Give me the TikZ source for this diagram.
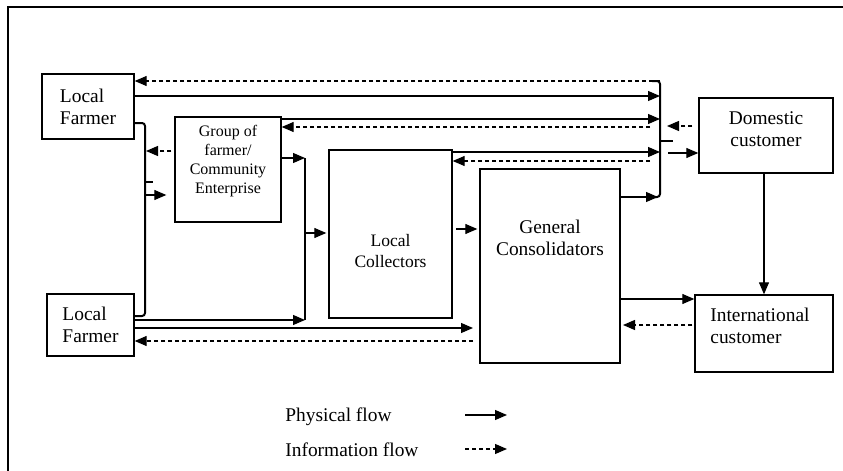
\documentclass[tikz,border=0pt]{standalone}
\usepackage{fontspec}
\setmainfont{Liberation Serif}
\usetikzlibrary{arrows.meta}

\tikzset{
  box/.style={draw, line width=0.7pt, inner sep=0pt},
  phys/.style={-{Triangle[length=6pt,width=5pt]}, line width=0.6pt},
  info/.style={phys, dash pattern=on 2pt off 1.5pt},
  joint/.style={line width=1pt, rounded corners=1.5pt},
}

\begin{document}
\begin{tikzpicture}[x=0.5pt, y=-0.5pt, font=\fontsize{9.7}{11}\selectfont]
    \useasboundingbox (0,0) rectangle (843,471);
    % Frame
    \draw[line width=1pt] (8,471) -- (8,7) -- (843,7);

    % Boxes
    \node[box, minimum width=46pt, minimum height=32.5pt, align=left] (lf1) at (88,106.5) {Local\\Farmer};
    \node[box, minimum width=43.5pt, minimum height=31pt, align=left] (lf2) at (90.5,325) {Local\\Farmer};
    \node[box, minimum width=53pt, minimum height=52.5pt] (grp) at (228,169.5) {};
    \node[box, minimum width=61.5pt, minimum height=84pt] (lc) at (390.5,234) {};
    \node[box, minimum width=70pt, minimum height=97pt] (gc) at (550,266) {};
    \node[box, minimum width=67pt, minimum height=37.5pt] (dom) at (766,135.5) {};
    \node[box, minimum width=69pt, minimum height=38.5pt] (intl) at (764,333.5) {};

    % Box texts
    \node[align=center, font=\fontsize{8}{9.5}\selectfont] (grptext) at (228,161.5) {Group of\\farmer/\\Community\\Enterprise};
    \node[align=center, font=\fontsize{8.75}{10.5}\selectfont] (lctext) at (390.5,251) {Local\\Collectors};
    \node[align=center] (gctext) at (550,238) {General\\Consolidators};
    \node[align=center] (domtext) at (766,129) {Domestic\\customer};
    \node[align=left, anchor=west, inner sep=0pt] (intltext) at (710,326) {International\\customer};

    % Left bracket
    \coordinate (lbtop) at (145,123);
    \coordinate (lbbot) at (145,316);
    \coordinate (lbout) at (145,195);
    \coordinate (lbin) at (146,151);
    \draw[joint] (lf1.east |- lbtop) -- (lbtop) -- (lbbot) -- (lf2.east |- lbbot);
    \draw[joint] (145,182) -- (153,182);
    \draw[phys, shorten >=4pt] (lbout) -- (grp.west |- lbout);
    \draw[info, shorten <=1.5pt] (grp.west |- lbin) -- (lbin);

    % Middle bracket
    \coordinate (mbtop) at (305,158);
    \coordinate (mbbot) at (305,320);
    \coordinate (mbout) at (305,233);
    \draw[joint] (mbtop) -- (mbbot);
    \draw[phys] (grp.east |- mbtop) -- (mbtop);
    \draw[phys] (lf2.east |- mbbot) -- (mbbot);
    \draw[phys, shorten >=1pt] (mbout) -- (lc.west |- mbout);

    % Right bracket
    \coordinate (rbtop) at (660,81);
    \coordinate (rbbot) at (660,197);
    \coordinate (rb1) at (660,96);
    \coordinate (rb2) at (660,119);
    \coordinate (rb3) at (660,127);
    \coordinate (rb4) at (660,152);
    \coordinate (rb5) at (660,161);
    \draw[joint] (652,81) -- (rbtop) -- (rbbot) -- (652,197);
    \draw[joint] (660,141) -- (673,141);
    \draw[info] (rbtop) -- (lf1.east |- rbtop);
    \draw[phys] (lf1.east |- rb1) -- (rb1);
    \draw[phys] (grp.east |- rb2) -- (rb2);
    \draw[info, shorten <=5pt] (rb3) -- (grp.east |- rb3);
    \draw[phys] (lc.east |- rb4) -- (rb4);
    \draw[info, shorten <=5pt] (rb5) -- (lc.east |- rb5);
    \draw[phys, shorten >=1pt] (gc.east |- rbbot) -- (rbbot);

    % Domestic customer
    \coordinate (rbin) at (667,126);
    \coordinate (rbout) at (668,153);
    \draw[info, shorten <=3pt] (dom.west |- rbin) -- (rbin);
    \draw[phys] (rbout) -- (dom.west |- rbout);
    \draw[phys] (intl.north |- dom.south) -- (intl.north);

    % Local collectors and consolidators
    \coordinate (lcgc) at (452,229);
    \coordinate (lfgc) at (480,328);
    \coordinate (gclf) at (480,341);
    \draw[phys, shorten <=2pt, shorten >=1pt] (lcgc) -- (gc.west |- lcgc);
    \draw[phys, shorten >=3.5pt] (lf2.east |- lfgc) -- (lfgc);
    \draw[info, shorten <=3.5pt] (gclf) -- (lf2.east |- gclf);

    % International customer
    \coordinate (gcint) at (620,299);
    \coordinate (intgc) at (620,325);
    \draw[phys] (gcint) -- (intl.west |- gcint);
    \draw[info, shorten <=1pt, shorten >=1.5pt] (intl.west |- intgc) -- (intgc);

    % Legend
    \node[anchor=west, inner sep=0pt] (physlbl) at (285,417) {Physical flow};
    \node[anchor=west, inner sep=0pt] (infolbl) at (285,450) {Information flow};
    \coordinate (physA) at (465,415);
    \coordinate (physB) at (507,415);
    \coordinate (infoA) at (465,449);
    \coordinate (infoB) at (507,449);
    \draw[phys] (physA) -- (physB);
    \draw[info] (infoA) -- (infoB);
\end{tikzpicture}
\end{document}
